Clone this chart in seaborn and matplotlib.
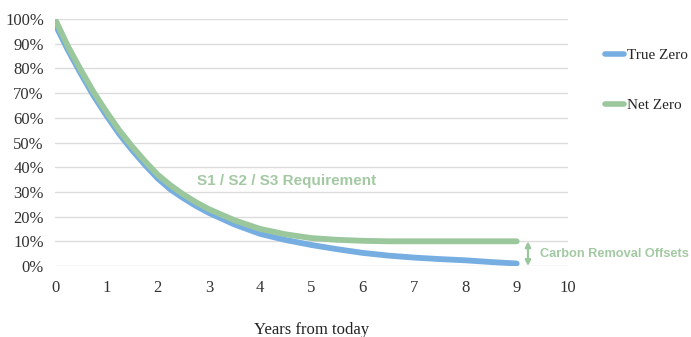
import matplotlib
matplotlib.use("Agg")
import matplotlib.pyplot as plt
import seaborn as sns
import pandas as pd
from matplotlib.ticker import PercentFormatter
from matplotlib.lines import Line2D

# Data
years = [0, 0.25, 0.5, 0.75, 1, 1.25, 1.5, 1.75, 2, 2.25, 2.5, 2.75, 3, 3.5, 4, 4.5, 5,
         5.5, 6, 6.5, 7, 7.5, 8, 8.5, 9]
true_zero = [98, 87.5, 78, 69, 61, 53.5, 47, 41, 35.5, 31, 27.5, 24.3, 21.5, 16.8, 13, 10.5, 8.5,
             6.8, 5.3, 4.2, 3.4, 2.8, 2.3, 1.6, 1.0]
net_zero = [100, 89, 79.5, 70.5, 62.5, 55, 48.5, 42.5, 37, 32.7, 29, 25.8, 23, 18.5, 15, 12.8, 11.3,
            10.6, 10.2, 10.0, 10.0, 10.0, 10.0, 10.0, 10.0]
series_names = ["True Zero", "Net Zero"]
x_ticks = list(range(0, 11))
y_ticks = list(range(0, 101, 10))

blue = "#77aee2"
green = "#9bc79c"
text_green = "#a3c9a3"

df = pd.DataFrame({
    "year": years * 2,
    "value": [v / 100 for v in true_zero] + [v / 100 for v in net_zero],
    "series": [series_names[0]] * len(years) + [series_names[1]] * len(years),
})

sns.set_theme(style="white")
plt.rcParams["font.family"] = ["Liberation Serif", "DejaVu Serif"]

fig = plt.figure(figsize=(6.91, 3.37), dpi=100)
ax = fig.add_axes([0.0796, 0.2107, 0.7424, 0.7329])

sns.lineplot(data=df, x="year", y="value", hue="series", hue_order=series_names,
             palette=[blue, green], linewidth=4.2, ax=ax, legend=False,
             solid_capstyle="round", solid_joinstyle="round")

ax.set_xlim(0, 10)
ax.set_ylim(0, 1.0)
ax.set_xticks(x_ticks)
ax.set_yticks([v / 100 for v in y_ticks])
ax.yaxis.set_major_formatter(PercentFormatter(1.0, decimals=0))
ax.grid(axis="y", color="#dcdcdc", linewidth=1.0)
ax.set_axisbelow(True)
for s in ax.spines.values():
    s.set_visible(False)
ax.tick_params(axis="both", length=0, labelsize=12, colors="#333333")
ax.tick_params(axis="y", pad=8)
ax.tick_params(axis="x", pad=10)
ax.set_xlabel("Years from today", fontsize=12, color="#222222", labelpad=19)
ax.set_ylabel("")

# Legend
handles = [Line2D([0], [0], color=blue, lw=4), Line2D([0], [0], color=green, lw=4)]
fig.legend(handles, series_names, loc="upper left", bbox_to_anchor=(0.866, 0.874),
           frameon=False, fontsize=11, handlelength=1.3, handletextpad=0.2,
           labelspacing=2.35, borderaxespad=0)

# Annotations
ax.text(4.52, 0.344, "S1 / S2 / S3 Requirement", ha="center", va="center",
        fontsize=11, fontweight="bold", color=text_green, family="Liberation Sans")
ax.annotate("", xy=(9.22, 0.0), xytext=(9.22, 0.10),
            arrowprops=dict(arrowstyle="<|-|>", color=green, lw=1.6, mutation_scale=8,
                            shrinkA=0, shrinkB=0))
ax.text(9.45, 0.048, "Carbon Removal Offsets", ha="left", va="center",
        fontsize=9.2, fontweight="bold", color=text_green, family="Liberation Sans",
        clip_on=False)

fig.savefig("out.png", dpi=100)
